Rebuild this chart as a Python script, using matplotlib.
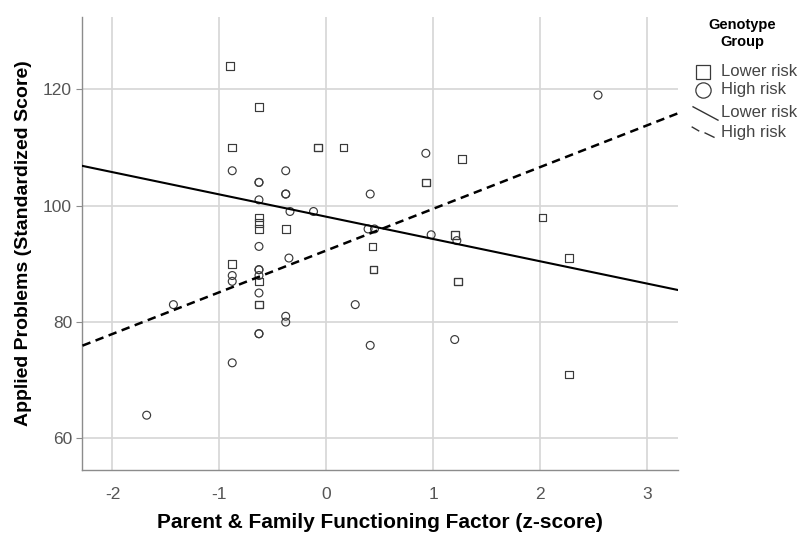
import numpy as np
from matplotlib import pyplot as plt
from matplotlib.lines import Line2D

# Genotype group: lower risk (squares)
lowX = [-0.90, -0.63, -0.88, -0.08, -0.08, 0.16, -0.63, -0.63, -0.63, -0.38,
        0.93, 0.93, 1.27, 0.43, 0.44, 0.44, 1.20, 1.20, 1.23, 1.23,
        -0.88, -0.63, -0.63, -0.63, 2.02, 2.27, 2.27]
lowY = [124, 117, 110, 110, 110, 110, 98, 97, 96, 96,
        104, 104, 108, 93, 89, 89, 95, 95, 87, 87,
        90, 87, 83, 83, 98, 91, 71]

# Genotype group: high risk (circles)
highX = [-0.88, -0.38, -0.63, -0.63, -0.38, -0.38, 0.41, -0.63, -0.34, -0.12,
         0.39, 0.45, -0.63, -0.35, -0.88, -0.88, -0.63, -0.63, -0.63, -0.63,
         -0.38, -0.38, -0.63, -0.63, -0.88, -1.43, -1.68, 0.27, 0.41, 0.93,
         0.98, 1.22, 1.20, 2.54]
highY = [106, 106, 104, 104, 102, 102, 102, 101, 99, 99,
         96, 96, 93, 91, 88, 87, 89, 89, 88, 85,
         81, 80, 78, 78, 73, 83, 64, 83, 76, 109,
         95, 94, 77, 119]

# fit lines (intercept, slope)
fitLow = (98.1, -3.83)
fitHigh = (92.3, 7.17)

xmin, xmax = -2.28, 3.29

plt.rcParams['font.family'] = ['Liberation Sans', 'DejaVu Sans']
plt.rcParams['axes.unicode_minus'] = False

fig = plt.figure(figsize=(8.04, 5.34), dpi=100)
ax = fig.add_axes([0.1026, 0.12, 0.741, 0.848])

ax.scatter(lowX, lowY, marker='s', s=30, facecolors='none', edgecolors='#3a3a3a', linewidths=0.85, zorder=3)
ax.scatter(highX, highY, marker='o', s=32, facecolors='none', edgecolors='#3a3a3a', linewidths=0.85, zorder=3)

xs = np.array([xmin, xmax])
ax.plot(xs, fitLow[0] + fitLow[1] * xs, color='black', lw=1.5, zorder=4)
ax.plot(xs, fitHigh[0] + fitHigh[1] * xs, color='black', lw=1.8, dashes=(3.4, 2.2), zorder=4)

ax.set_xlim(xmin, xmax)
ax.set_ylim(54.6, 132.4)
ax.set_xticks([-2, -1, 0, 1, 2, 3])
ax.set_yticks([60, 80, 100, 120])
ax.grid(True, color='#d6d6d6', lw=1.2)
ax.set_axisbelow(True)
for s in ['top', 'right']:
    ax.spines[s].set_visible(False)
for s in ['left', 'bottom']:
    ax.spines[s].set_color('#8c8c8c')
    ax.spines[s].set_linewidth(1.0)
ax.tick_params(axis='both', colors='#8c8c8c', labelcolor='#555555', labelsize=12.5, length=4, width=0.8)
ax.tick_params(axis='x', length=0, pad=12)

ax.set_xlabel('Parent & Family Functioning Factor (z-score)', fontsize=15, fontweight='bold', labelpad=8)
ax.set_ylabel('Applied Problems (Standardized Score)', fontsize=14, fontweight='bold', labelpad=8)

# legend drawn by hand
fig.text(0.923, 0.953, 'Genotype', ha='center', va='center', fontsize=10.5, fontweight='bold')
fig.text(0.923, 0.921, 'Group', ha='center', va='center', fontsize=10.5, fontweight='bold')
rows = [0.866, 0.832, 0.790, 0.751]
labels = ['Lower risk', 'High risk', 'Lower risk', 'High risk']
fig.add_artist(Line2D([0.875], [rows[0]], marker='s', ms=10, mfc='none', mec='#3a3a3a', mew=0.9, transform=fig.transFigure))
fig.add_artist(Line2D([0.875], [rows[1]], marker='o', ms=11, mfc='none', mec='#3a3a3a', mew=0.9, transform=fig.transFigure))
fig.add_artist(Line2D([0.862, 0.893], [rows[2] + 0.010, rows[2] - 0.015], color='#333333', lw=1.0, transform=fig.transFigure))
fig.add_artist(Line2D([0.861, 0.869], [rows[3] + 0.011, rows[3] + 0.004], color='#333333', lw=1.0, transform=fig.transFigure))
fig.add_artist(Line2D([0.877, 0.888], [rows[3] - 0.000, rows[3] - 0.008], color='#333333', lw=1.0, transform=fig.transFigure))
for r, lab in zip(rows, labels):
    fig.text(0.897, r, lab, ha='left', va='center', fontsize=12, color='#444444')

fig.savefig('out.png', dpi=100)
